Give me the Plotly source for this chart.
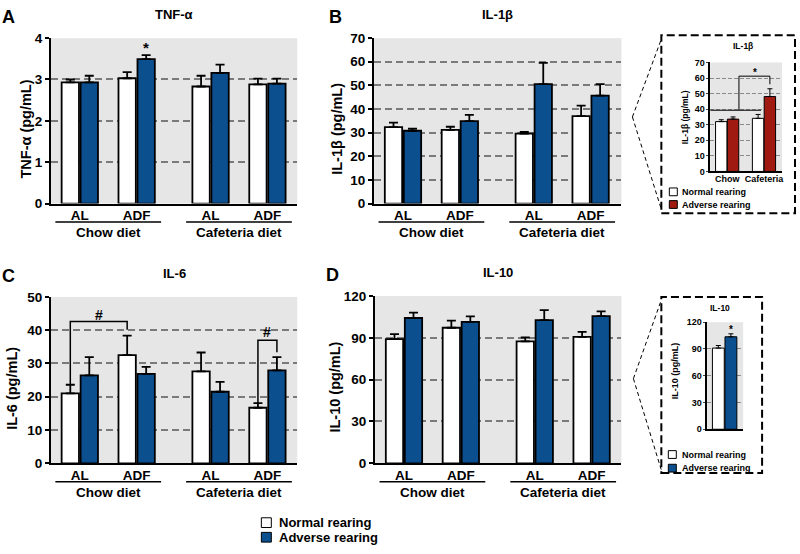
import plotly.graph_objects as go

W, H = 800, 554
FONT = "Liberation Sans, Arial, sans-serif"
BLUE = "#0b4f8f"
RED = "#a01a12"
BG = "#e6e6e6"
GRID = "#7a7a7a"

# ---------------- data ----------------
diets = ["Chow diet", "Cafeteria diet"]
feeding = ["AL", "ADF", "AL", "ADF"]
rearing = ["Normal rearing", "Adverse rearing"]

tnf_normal = [2.93, 3.03, 2.83, 2.88]
tnf_normal_sem = [0.07, 0.15, 0.26, 0.14]
tnf_adverse = [2.93, 3.49, 3.16, 2.90]
tnf_adverse_sem = [0.16, 0.10, 0.20, 0.12]

il1b_normal = [32.3, 31.2, 29.6, 37.0]
il1b_normal_sem = [1.9, 1.3, 0.7, 4.4]
il1b_adverse = [30.8, 34.9, 50.5, 45.7]
il1b_adverse_sem = [0.9, 2.6, 9.0, 4.8]

il6_normal = [21.0, 32.5, 27.6, 16.7]
il6_normal_sem = [2.6, 5.9, 5.7, 1.4]
il6_adverse = [26.4, 26.9, 21.5, 27.9]
il6_adverse_sem = [5.5, 2.1, 3.0, 4.0]

il10_normal = [89.1, 97.2, 87.4, 90.7]
il10_normal_sem = [3.5, 5.1, 2.8, 3.5]
il10_adverse = [104.2, 101.4, 102.6, 105.6]
il10_adverse_sem = [3.9, 3.9, 7.2, 3.3]

inset_diets = ["Chow", "Cafeteria"]
inset_il1b_normal = [32.0, 34.1]
inset_il1b_normal_sem = [1.2, 2.5]
inset_il1b_adverse = [33.6, 48.1]
inset_il1b_adverse_sem = [1.4, 5.0]

inset_il10_normal = [91.0]
inset_il10_normal_sem = [2.9]
inset_il10_adverse = [103.7]
inset_il10_adverse_sem = [3.3]

# significance marks (values on y scale)
tnf_star_y = 3.78
il6_chow_bracket = [23.7, 42.6, 40.1]
il6_caf_bracket = [18.1, 37.0, 33.4]
il1b_inset_bracket = [39.3, 61.2, 56.0]
il10_inset_star_y = 112.0

# ---------------- helpers ----------------
def fx(p):
    return p / W

def fy(p):
    return 1 - p / H

GROUP_STEP = 2.3
pos = [g * GROUP_STEP + i for g in range(2) for i in range(2)]
OFF = 0.167
BW = 0.305

fig = go.Figure()
shapes = []
ann = []

def bold_font(size, color="black"):
    return dict(family=FONT, size=size, color=color, weight="bold")

def text(x, y, s, size, xanchor="center", yanchor="middle", angle=0, xref="paper", yref="paper"):
    ann.append(dict(x=x, y=y, xref=xref, yref=yref, text=s, showarrow=False,
                    font=bold_font(size), xanchor=xanchor, yanchor=yanchor,
                    textangle=angle))

def add_bars(n, xs_center, vals, sems, color, off, bw, lw, cap, thick):
    fig.add_trace(go.Bar(
        x=[p + off for p in xs_center], y=vals, width=bw,
        marker=dict(color=color, line=dict(color="black", width=lw)),
        error_y=dict(type="data", symmetric=False, array=sems,
                     arrayminus=[0] * len(vals), color="black",
                     thickness=thick, width=cap),
        xaxis="x" + ("" if n == 1 else str(n)),
        yaxis="y" + ("" if n == 1 else str(n)),
        showlegend=False, hoverinfo="skip"))

def axis_names(n):
    s = "" if n == 1 else str(n)
    return "xaxis" + s, "yaxis" + s, "x" + s, "y" + s

layout_axes = {}

def main_panel(n, xpx, ypx, ymax, dtick, normal, nsem, adverse, asem,
               ytitle, ytitle_x, title, letter, letter_x):
    xa, ya, xr, yr = axis_names(n)
    add_bars(n, pos, normal, nsem, "white", -OFF, BW, 1.8, 4.5, 1.8)
    add_bars(n, pos, adverse, asem, BLUE, OFF, BW, 1.8, 4.5, 1.8)
    unit = 57.0
    left = -29 / unit
    right = (xpx[1] - xpx[0] - 29) / unit
    layout_axes[xa] = dict(domain=[fx(xpx[0]), fx(xpx[1])], range=[left, right],
                           anchor=yr, showline=True, linewidth=2, linecolor="black",
                           ticks="", ticklen=0, tickvals=list(pos), ticktext=feeding,
                           tickfont=bold_font(13.5), showgrid=False, zeroline=False,
                           fixedrange=True, ticklabelstandoff=-2)
    layout_axes[ya] = dict(domain=[fy(ypx[1]), fy(ypx[0])], range=[0, ymax],
                           anchor=xr, showline=True, linewidth=2, linecolor="black",
                           ticks="outside", ticklen=4, tickwidth=1.5, tickcolor="black",
                           dtick=dtick, tick0=0, tickfont=bold_font(13.5),
                           showgrid=True, gridcolor=GRID, gridwidth=1.5,
                           griddash="7px,4px", zeroline=False, fixedrange=True)
    # group lines and labels
    for g, d in enumerate(diets):
        mid = (pos[2 * g] + pos[2 * g + 1]) / 2
        shapes.append(dict(type="line", xref=xr, yref="paper",
                           x0=mid - 0.93, x1=mid + 0.93,
                           y0=fy(ypx[1] + 19), y1=fy(ypx[1] + 19),
                           line=dict(color="black", width=1.5)))
        text(mid, fy(ypx[1] + 30), d, 13.5, xref=xr)
    text(fx(ytitle_x), fy((ypx[0] + ypx[1]) / 2 + 8), ytitle, 14.5, angle=-90)
    text(fx((xpx[0] + xpx[1]) / 2), fy(ypx[0] - 24), title, 13)
    text(fx(letter_x), fy(ypx[0] - 22), letter, 18)

main_panel(1, (51, 298), (32, 202), 4, 1, tnf_normal, tnf_normal_sem,
           tnf_adverse, tnf_adverse_sem, "TNF-α (pg/mL)", 26, "TNF-α", "A", 9)
main_panel(2, (375, 623), (32, 202), 70, 10, il1b_normal, il1b_normal_sem,
           il1b_adverse, il1b_adverse_sem, "IL-1β (pg/mL)", 337, "IL-1β", "B", 336)
main_panel(3, (51, 298), (298, 469), 50, 10, il6_normal, il6_normal_sem,
           il6_adverse, il6_adverse_sem, "IL-6 (pg/mL)", 12, "IL-6", "C", 9)
main_panel(4, (376, 623), (297, 469), 120, 30, il10_normal, il10_normal_sem,
           il10_adverse, il10_adverse_sem, "IL-10 (pg/mL)", 336, "IL-10", "D", 333)

# significance in A
text(pos[1] + OFF, tnf_star_y, "*", 15, xref="x", yref="y")

# brackets in C
def bracket(xr, yr, xa_, xb_, yvals, color="black", w=1.3):
    ya_, ytop, yb_ = yvals
    shapes.append(dict(type="path", xref=xr, yref=yr,
                       path=f"M {xa_},{ya_} L {xa_},{ytop} L {xb_},{ytop} L {xb_},{yb_}",
                       line=dict(color=color, width=w)))

bracket("x3", "y3", pos[0] - OFF, pos[1] - OFF, il6_chow_bracket, w=1.5)
text((pos[0] + pos[1]) / 2 - OFF, il6_chow_bracket[1] + 2.0, "#", 14, xref="x3", yref="y3")
bracket("x3", "y3", pos[3] - OFF, pos[3] + OFF, il6_caf_bracket, w=1.5)
text(pos[3], il6_caf_bracket[1] + 2.5, "#", 14, xref="x3", yref="y3")

# ---------------- inset IL-1β ----------------
ipos = [0, 1]
IOFF, IBW = 0.16, 0.31
add_bars(5, ipos, inset_il1b_normal, inset_il1b_normal_sem, "white", -IOFF, IBW, 1, 2.5, 1)
add_bars(5, ipos, inset_il1b_adverse, inset_il1b_adverse_sem, RED, IOFF, IBW, 1, 2.5, 1)
layout_axes["xaxis5"] = dict(domain=[fx(712), fx(784)], range=[-0.46, 1.49], anchor="y5",
                             showline=True, linewidth=1.5, linecolor="black", ticks="",
                             ticklen=0, tickvals=ipos, ticktext=inset_diets,
                             tickfont=bold_font(9), showgrid=False, zeroline=False,
                             ticklabelstandoff=-2)
layout_axes["yaxis5"] = dict(domain=[fy(169), fy(57)], range=[0, 70], anchor="x5",
                             showline=True, linewidth=1.5, linecolor="black",
                             ticks="outside", ticklen=2, tickwidth=1, dtick=10,
                             tickfont=bold_font(9), showgrid=True, gridcolor="#8a8a8a",
                             gridwidth=1, griddash="4px,2px", zeroline=False)
text(fx(687), fy(113), "IL-1β (pg/mL)", 8.5, angle=-90)
text(fx(745), fy(40), "IL-1β", 8.5)
shapes.append(dict(type="line", xref="x5", yref="y5", x0=-0.46, x1=0.92,
                   y0=il1b_inset_bracket[0], y1=il1b_inset_bracket[0],
                   line=dict(color="black", width=1)))
bracket("x5", "y5", 0.32, 1 + IOFF, il1b_inset_bracket, w=1)
text(0.76, il1b_inset_bracket[1] + 2.5, "*", 10, xref="x5", yref="y5")

# ---------------- inset IL-10 ----------------
add_bars(6, [0], inset_il10_normal, inset_il10_normal_sem, "white", -0.17, 0.32, 1, 2.5, 1)
add_bars(6, [0], inset_il10_adverse, inset_il10_adverse_sem, BLUE, 0.17, 0.32, 1, 2.5, 1)
layout_axes["xaxis6"] = dict(domain=[fx(709), fx(745)], range=[-0.47, 0.5], anchor="y6",
                             showline=True, linewidth=1.5, linecolor="black", ticks="",
                             showticklabels=False, showgrid=False, zeroline=False)
layout_axes["yaxis6"] = dict(domain=[fy(434), fy(324)], range=[0, 120], anchor="x6",
                             showline=True, linewidth=1.5, linecolor="black",
                             ticks="outside", ticklen=2, tickwidth=1, dtick=30,
                             tickfont=bold_font(9), showgrid=True, gridcolor="#8a8a8a",
                             gridwidth=1, griddash="4px,2px", zeroline=False)
text(fx(677), fy(374), "IL-10 (pg/mL)", 9, angle=-90)
text(fx(722), fy(309), "IL-10", 8.5)
text(0.17, il10_inset_star_y, "*", 10, xref="x6", yref="y6")

# ---------------- legends ----------------
def legend(x0, ys, box, colors, fsize, tx):
    for y, c, lab in zip(ys, colors, rearing):
        shapes.append(dict(type="rect", xref="paper", yref="paper",
                           x0=fx(x0), x1=fx(x0 + box), y0=fy(y + box / 2), y1=fy(y - box / 2),
                           fillcolor=c, line=dict(color="black", width=1)))
        text(fx(tx), fy(y), lab, fsize, xanchor="left")

legend(262, [530, 545], 10, ["white", BLUE], 13, 278)
legend(671, [190, 203], 8, ["white", RED], 9, 682)
legend(670, [460, 474], 8, ["white", BLUE], 9, 682)

# ---------------- dashed boxes and connectors ----------------
def dbox(x0, x1, y0, y1):
    shapes.append(dict(type="rect", xref="paper", yref="paper",
                       x0=fx(x0), x1=fx(x1), y0=fy(y1), y1=fy(y0),
                       line=dict(color="black", width=2, dash="8px,4px"),
                       fillcolor="rgba(0,0,0,0)"))

def connector(px_, py_, x1, ya_, yb_):
    for yy in (ya_, yb_):
        shapes.append(dict(type="line", xref="paper", yref="paper",
                           x0=fx(px_), y0=fy(py_), x1=fx(x1), y1=fy(yy),
                           line=dict(color="black", width=1, dash="4px,3px")))

dbox(663, 797, 29, 212)
connector(634, 113, 663, 33, 208)
dbox(663, 764, 298, 479)
connector(635, 382, 663, 301, 476)

fig.update_layout(
    width=W, height=H, margin=dict(l=0, r=0, t=0, b=0),
    paper_bgcolor="white", plot_bgcolor=BG, barmode="overlay",
    showlegend=False, shapes=shapes, annotations=ann,
    font=dict(family=FONT, color="black"),
    **layout_axes)

fig.write_html("out.html")
